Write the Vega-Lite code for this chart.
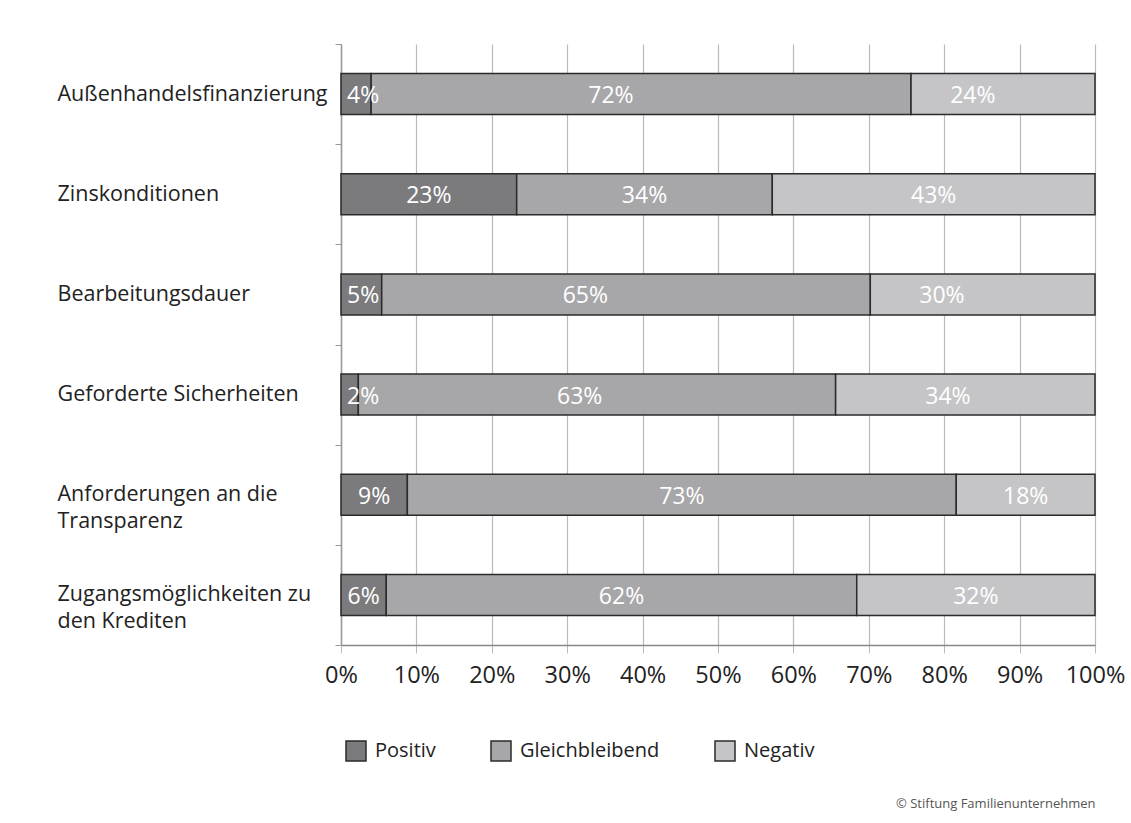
{
  "$schema": "https://vega.github.io/schema/vega-lite/v6.json",
  "autosize": {"type": "none"},
  "width": 754,
  "height": 601,
  "padding": {"left": 341, "top": 44, "right": 36, "bottom": 178},
  "background": "white",
  "data": {
    "values": [
      {"cat": "Außenhandelsfinanzierung", "series": "Positiv", "idx": 1, "value": 0.04},
      {"cat": "Außenhandelsfinanzierung", "series": "Gleichbleibend", "idx": 2, "value": 0.716},
      {"cat": "Außenhandelsfinanzierung", "series": "Negativ", "idx": 3, "value": 0.244},
      {"cat": "Zinskonditionen", "series": "Positiv", "idx": 1, "value": 0.233},
      {"cat": "Zinskonditionen", "series": "Gleichbleibend", "idx": 2, "value": 0.339},
      {"cat": "Zinskonditionen", "series": "Negativ", "idx": 3, "value": 0.428},
      {"cat": "Bearbeitungsdauer", "series": "Positiv", "idx": 1, "value": 0.054},
      {"cat": "Bearbeitungsdauer", "series": "Gleichbleibend", "idx": 2, "value": 0.648},
      {"cat": "Bearbeitungsdauer", "series": "Negativ", "idx": 3, "value": 0.298},
      {"cat": "Geforderte Sicherheiten", "series": "Positiv", "idx": 1, "value": 0.023},
      {"cat": "Geforderte Sicherheiten", "series": "Gleichbleibend", "idx": 2, "value": 0.633},
      {"cat": "Geforderte Sicherheiten", "series": "Negativ", "idx": 3, "value": 0.344},
      {"cat": "Anforderungen an die|Transparenz", "series": "Positiv", "idx": 1, "value": 0.088},
      {"cat": "Anforderungen an die|Transparenz", "series": "Gleichbleibend", "idx": 2, "value": 0.728},
      {"cat": "Anforderungen an die|Transparenz", "series": "Negativ", "idx": 3, "value": 0.184},
      {"cat": "Zugangsmöglichkeiten zu|den Krediten", "series": "Positiv", "idx": 1, "value": 0.06},
      {"cat": "Zugangsmöglichkeiten zu|den Krediten", "series": "Gleichbleibend", "idx": 2, "value": 0.624},
      {"cat": "Zugangsmöglichkeiten zu|den Krediten", "series": "Negativ", "idx": 3, "value": 0.316}
    ]
  },
  "encoding": {
    "y": {
      "field": "cat",
      "type": "nominal",
      "sort": null,
      "title": null,
      "scale": {"paddingInner": 0, "paddingOuter": 0},
      "axis": {
        "tickBand": "extent",
        "labelExpr": "isValid(datum.value) ? split(datum.value, '|') : ''",
        "labelAlign": "left",
        "labelBaseline": "middle",
        "labelPadding": 278,
        "labelFont": "Open Sans",
        "labelFontSize": 21.5,
        "labelColor": "#222222",
        "labelLineHeight": 27,
        "labelLimit": 300,
        "tickSize": 6,
        "tickColor": "#999999",
        "domainColor": "#999999",
        "domainWidth": 1.5,
        "grid": false
      }
    },
    "x": {
      "field": "value",
      "type": "quantitative",
      "stack": "zero",
      "title": "© Stiftung Familienunternehmen",
      "scale": {"domain": [0, 1], "nice": false},
      "axis": {
        "format": ".0%",
        "values": [0, 0.1, 0.2, 0.3, 0.4, 0.5, 0.6, 0.7, 0.8, 0.9, 1],
        "grid": true,
        "gridColor": "#bbbbbb",
        "gridWidth": 1.2,
        "tickColor": "#bbbbbb",
        "tickSize": 8,
        "domainColor": "#888888",
        "domainWidth": 1.5,
        "labelFont": "Open Sans",
        "labelFontSize": 23.5,
        "labelColor": "#222222",
        "labelPadding": 10,
        "labelFlush": false,
        "titleAnchor": "end",
        "titleFont": "Open Sans",
        "titleFontSize": 13,
        "titleFontWeight": "normal",
        "titleColor": "#555555",
        "titlePadding": 111
      }
    },
    "order": {"field": "idx", "type": "quantitative"}
  },
  "layer": [
    {
      "mark": {"type": "bar", "stroke": "#2b2b2b", "strokeWidth": 1.5, "height": {"band": 0.41}},
      "encoding": {
        "color": {
          "field": "series",
          "type": "nominal",
          "sort": ["Positiv", "Gleichbleibend", "Negativ"],
          "scale": {
            "domain": ["Positiv", "Gleichbleibend", "Negativ"],
            "range": ["#7b7b7d", "#a7a7a9", "#c5c5c7"]
          },
          "legend": {
            "title": null,
            "orient": "none",
            "direction": "horizontal",
            "legendX": 4,
            "legendY": 696,
            "symbolType": "square",
            "symbolSize": 400,
            "symbolStrokeColor": "#2b2b2b",
            "symbolStrokeWidth": 1.5,
            "symbolOpacity": 1,
            "labelFont": "Open Sans",
            "labelFontSize": 20,
            "labelColor": "#222222",
            "labelOffset": 8,
            "columnPadding": 52
          }
        }
      }
    },
    {
      "transform": [{"filter": "datum.series != 'Positiv' || datum.value >= 0.06"}],
      "mark": {"type": "text", "color": "white", "font": "Open Sans", "fontSize": 23, "baseline": "middle", "dy": 2},
      "encoding": {
        "x": {"field": "value", "type": "quantitative", "stack": "zero", "bandPosition": 0.5},
        "text": {"field": "value", "type": "quantitative", "format": ".0%"}
      }
    },
    {
      "transform": [{"filter": "datum.series == 'Positiv' && datum.value < 0.06"}],
      "mark": {"type": "text", "color": "white", "font": "Open Sans", "fontSize": 23, "baseline": "middle", "align": "left", "dy": 2, "dx": 6},
      "encoding": {
        "x": {"datum": 0, "type": "quantitative"},
        "text": {"field": "value", "type": "quantitative", "format": ".0%"}
      }
    }
  ],
  "config": {"view": {"stroke": null}}
}
